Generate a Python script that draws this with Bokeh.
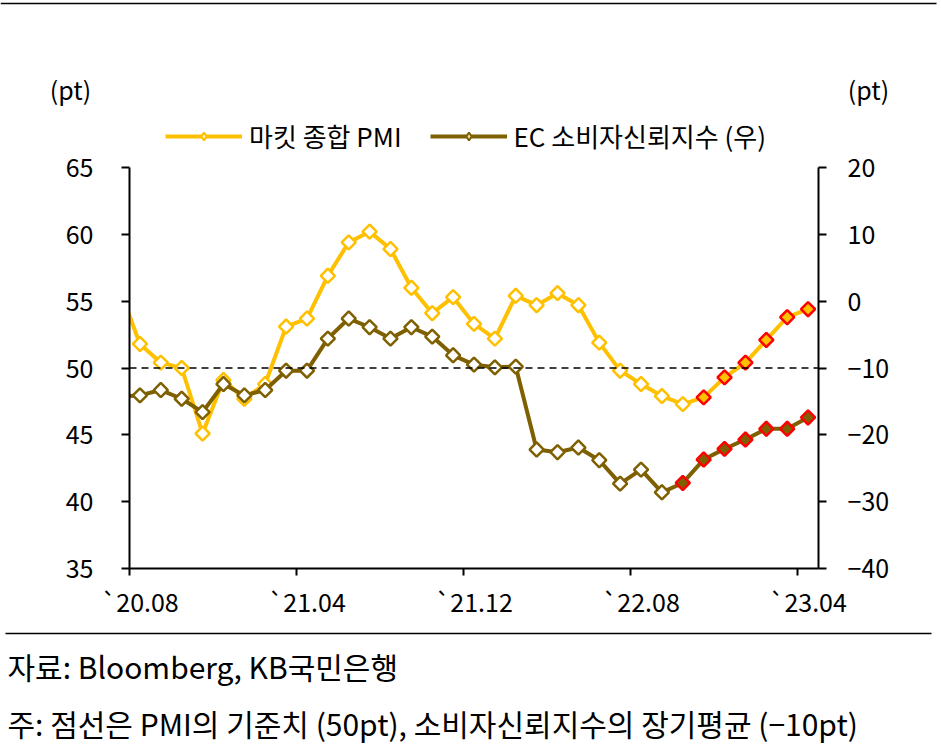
import math
from bokeh.plotting import figure
from bokeh.models import (Range1d, LinearAxis, FixedTicker, Span, Label, Legend,
                          LegendItem)
from bokeh.embed import file_html
from bokeh.resources import INLINE

# ---------------- data ----------------
months = ["2020-07",
          "2020-08", "2020-09", "2020-10", "2020-11", "2020-12",
          "2021-01", "2021-02", "2021-03", "2021-04", "2021-05", "2021-06",
          "2021-07", "2021-08", "2021-09", "2021-10", "2021-11", "2021-12",
          "2022-01", "2022-02", "2022-03", "2022-04", "2022-05", "2022-06",
          "2022-07", "2022-08", "2022-09", "2022-10", "2022-11", "2022-12",
          "2023-01", "2023-02", "2023-03", "2023-04"]
pmi = [56.0,
       51.8, 50.4, 50.0, 45.1, 49.1,
       47.7, 48.8, 53.1, 53.7, 56.9, 59.4,
       60.2, 58.9, 56.0, 54.1, 55.3, 53.3,
       52.2, 55.4, 54.7, 55.6, 54.7, 51.9,
       49.8, 48.8, 47.9, 47.3, 47.8, 49.3,
       50.4, 52.1, 53.8, 54.4]
ec_conf = [-14.3,
           -14.1, -13.3, -14.6, -16.6, -12.4,
           -14.1, -13.3, -10.4, -10.4, -5.6, -2.6,
           -3.9, -5.6, -3.9, -5.3, -8.1, -9.5,
           -9.9, -9.8, -22.2, -22.6, -21.9, -23.8,
           -27.3, -25.2, -28.6, -27.2, -23.7, -22.1,
           -20.7, -19.1, -19.1, -17.4]
pmi_highlight_from = "2022-11"
ec_highlight_from = "2022-10"

x_tick_months = ["2020-08", "2021-04", "2021-12", "2022-08", "2023-04"]
x_tick_labels = ["`20.08", "`21.04", "`21.12", "`22.08", "`23.04"]
left_ticks = [35, 40, 45, 50, 55, 60, 65]
right_ticks = [-40, -30, -20, -10, 0, 10, 20]
right_labels = ["\u221240", "\u221230", "\u221220", "\u221210", "0", "10", "20"]
pmi_ref = 50

series1_name = "마킷 종합 PMI"
series2_name = "EC 소비자신뢰지수 (우)"
unit_text = "(pt)"
source_text = "자료: Bloomberg, KB국민은행"
note_text = "주: 점선은 PMI의 기준치 (50pt), 소비자신뢰지수의 장기평균 (\u221210pt)"

# ---------------- styling / layout ----------------
FONT = "Noto Sans CJK KR"
YELLOW = "#FFC000"
BROWN = "#7F6000"
RED = "#FF0000"
W = 941
H_TOP, H_MAIN, H_FOOT = 107, 518, 127
AX_TOP, AX_BOTTOM = 167, 568          # pixel rows of the visible axes' ends
FRAME_TOP = 109                       # plotting frame extends above the axes (room for legend)
left_lo, left_hi = left_ticks[0], left_ticks[-1]
right_lo, right_hi = right_ticks[0], right_ticks[-1]
ext_left = left_hi + (AX_TOP - FRAME_TOP) * (left_hi - left_lo) / (AX_BOTTOM - AX_TOP)
ext_right = right_hi + (AX_TOP - FRAME_TOP) * (right_hi - right_lo) / (AX_BOTTOM - AX_TOP)


def blank_fig(h):
    f = figure(width=W, height=h, x_range=Range1d(0, W), y_range=Range1d(h, 0),
               output_backend="svg", toolbar_location=None,
               x_axis_location=None, y_axis_location=None,
               min_border=0, min_border_left=0, min_border_right=0,
               min_border_top=0, min_border_bottom=0)
    f.outline_line_color = None
    f.xgrid.grid_line_color = None
    f.ygrid.grid_line_color = None
    return f


# ---------------- header (rule, units) ----------------
top = blank_fig(H_TOP)
top.segment(x0=[0], y0=[3], x1=[936], y1=[3], line_color="black", line_width=1.5)
for cx in (70, 868):
    top.add_layout(Label(x=cx, y=88, text=unit_text, text_align="center",
                         text_baseline="middle", text_font=FONT,
                         text_font_size="25px", text_color="black"))

# ---------------- main chart ----------------
base = months.index("2020-08")
xs = [i - base for i in range(len(months))]
x_ticks = [months.index(m) - base for m in x_tick_months]
x_bounds = [t - 0.5 for t in x_ticks]

p = figure(width=W, height=H_MAIN,
           x_range=Range1d(-0.5, len(months) - base - 0.5),
           y_range=Range1d(left_lo, ext_left),
           output_backend="svg", toolbar_location=None,
           min_border_left=129, min_border_right=123,
           min_border_top=FRAME_TOP - H_TOP,
           min_border_bottom=H_TOP + H_MAIN - AX_BOTTOM)
p.extra_y_ranges = {"right": Range1d(right_lo, ext_right)}
p.outline_line_color = None
p.xgrid.grid_line_color = None
p.ygrid.grid_line_color = None


def style_axis(ax, standoff):
    ax.axis_line_width = 2
    ax.axis_line_color = "black"
    ax.major_tick_in = 0
    ax.major_tick_out = 8
    ax.major_tick_line_width = 2
    ax.major_tick_line_color = "black"
    ax.minor_tick_line_color = None
    ax.major_label_standoff = standoff
    ax.major_label_text_font = FONT
    ax.major_label_text_font_size = "25px"
    ax.major_label_text_color = "black"


ya = p.yaxis[0]
ya.ticker = FixedTicker(ticks=left_ticks)
ya.bounds = (left_lo, left_hi)
style_axis(ya, 28)

ra = LinearAxis(y_range_name="right", ticker=FixedTicker(ticks=right_ticks),
                bounds=(right_lo, right_hi))
ra.major_label_overrides = dict(zip(right_ticks, right_labels))
style_axis(ra, 21)
p.add_layout(ra, "right")

xa = p.xaxis[0]
xa.ticker = FixedTicker(ticks=x_ticks, minor_ticks=x_bounds)
xa.major_label_overrides = dict(zip(x_ticks, x_tick_labels))
style_axis(xa, 7)
xa.major_tick_line_color = None
xa.major_tick_out = 0
xa.minor_tick_in = 0
xa.minor_tick_out = 7
xa.minor_tick_line_width = 2
xa.minor_tick_line_color = "black"

p.add_layout(Span(location=pmi_ref, dimension="width", line_color="black",
                  line_width=1.5, line_dash="7 5"))

pmi_hi = months.index(pmi_highlight_from)
ec_hi = months.index(ec_highlight_from)
MS = 10

p.line(xs, pmi, line_color=YELLOW, line_width=4)
p.scatter(xs[:pmi_hi], pmi[:pmi_hi], marker="square", angle=math.pi / 4,
          size=MS, fill_color="white", line_color=YELLOW, line_width=2.5)
p.scatter(xs[pmi_hi:], pmi[pmi_hi:], marker="square", angle=math.pi / 4,
          size=MS, fill_color=YELLOW, line_color=RED, line_width=2.5)

p.line(xs, ec_conf, line_color=BROWN, line_width=4, y_range_name="right")
p.scatter(xs[:ec_hi], ec_conf[:ec_hi], marker="square", angle=math.pi / 4,
          size=MS, fill_color="white", line_color=BROWN, line_width=2.5,
          y_range_name="right")
p.scatter(xs[ec_hi:], ec_conf[ec_hi:], marker="square", angle=math.pi / 4,
          size=MS, fill_color=BROWN, line_color=RED, line_width=2.5,
          y_range_name="right")

# legend key proxies (one point outside the x-range, so only the key is seen)
ox, oy = [-5], [50]
lg1 = p.line(x=ox, y=oy, line_color=YELLOW, line_width=4)
lg1m = p.scatter(x=ox, y=oy, marker="diamond", size=12,
                 fill_color="#FFF2CC", line_color=YELLOW, line_width=2)
lg2 = p.line(x=ox, y=oy, line_color=BROWN, line_width=4)
lg2m = p.scatter(x=ox, y=oy, marker="diamond", size=12,
                 fill_color="#E8DFC0", line_color=BROWN, line_width=2)
legend = Legend(items=[LegendItem(label=series1_name, renderers=[lg1, lg1m]),
                       LegendItem(label=series2_name, renderers=[lg2, lg2m])],
                orientation="horizontal", location=(36, AX_BOTTOM - 154),
                glyph_width=77, glyph_height=20, label_standoff=7, spacing=28,
                padding=0, margin=0, border_line_color=None,
                background_fill_alpha=0,
                label_text_font=FONT, label_text_font_size="26px",
                label_text_color="black")
p.add_layout(legend)

# ---------------- footer ----------------
Y0 = H_TOP + H_MAIN
foot = blank_fig(H_FOOT)
foot.segment(x0=[5], y0=[633 - Y0], x1=[931], y1=[633 - Y0],
             line_color="black", line_width=1.5)
foot.add_layout(Label(x=7, y=665 - Y0, text=source_text, text_align="left",
                      text_baseline="middle", text_font=FONT,
                      text_font_size="30px", text_color="black"))
foot.add_layout(Label(x=7, y=722 - Y0, text=note_text, text_align="left",
                      text_baseline="middle", text_font=FONT,
                      text_font_size="30px", text_color="black"))

open("out.html", "w").write(file_html([top, p, foot], INLINE))
